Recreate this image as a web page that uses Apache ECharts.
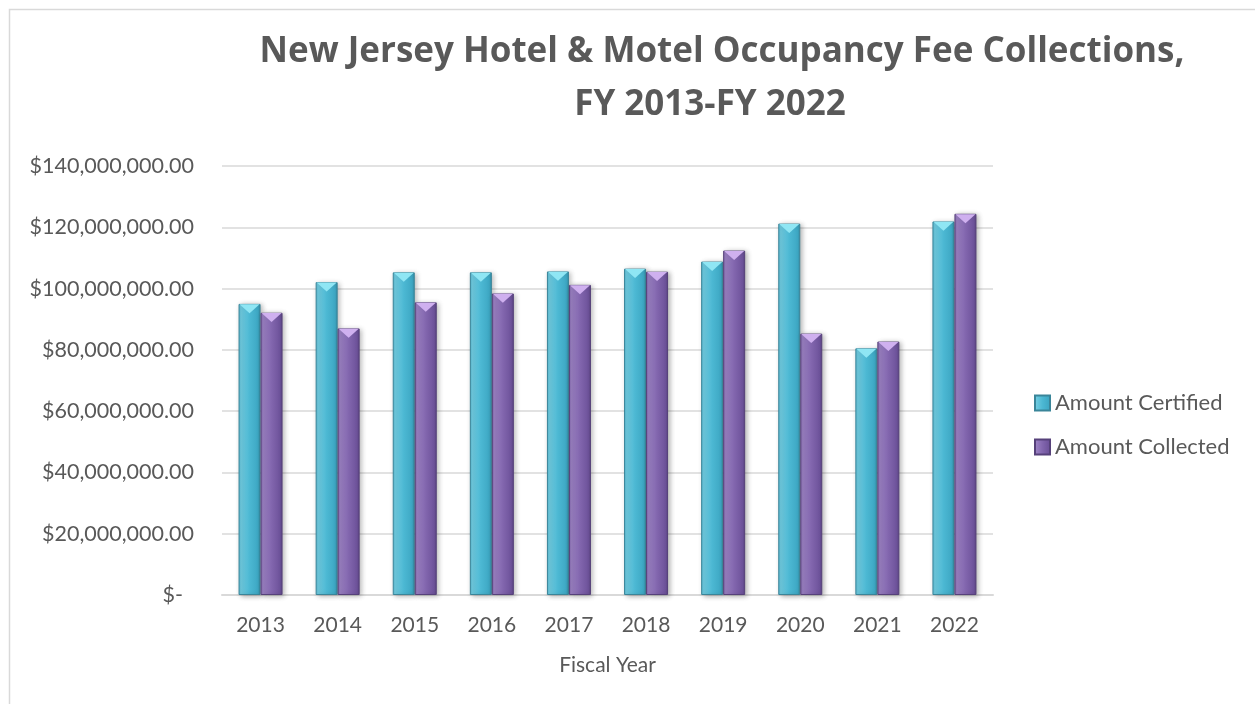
<!DOCTYPE html>
<html>
<head>
<meta charset="utf-8">
<script src="https://cdn.jsdelivr.net/npm/echarts@6/dist/echarts.min.js"></script>
<style>
html,body{margin:0;padding:0;background:#fff;}
#chart{width:1255px;height:704px;}
</style>
</head>
<body>
<div id="chart"></div>
<script>
const titleLine1 = 'New Jersey Hotel & Motel Occupancy Fee Collections,';
const titleLine2 = 'FY 2013-FY 2022';
const years = ['2013','2014','2015','2016','2017','2018','2019','2020','2021','2022'];
const seriesNames = ['Amount Certified', 'Amount Collected'];
const amountCertified = [95000000, 102100000, 105300000, 105300000, 105600000, 106500000, 108800000, 121200000, 80500000, 121900000];
const amountCollected = [92100000, 87000000, 95500000, 98400000, 101200000, 105500000, 112400000, 85300000, 82700000, 124400000];
const yTicks = {min: 0, max: 140000000, interval: 20000000};
const xAxisName = 'Fiscal Year';

const FONT = 'Lato';
const TFONT = '"Open Sans"';
const GRAY = '#595959';

function money(v) {
  if (v === 0) return '$-  ';
  return '$' + v.toLocaleString('en-US', {minimumFractionDigits: 2, maximumFractionDigits: 2});
}

function grad(stops) {
  return new echarts.graphic.LinearGradient(0, 0, 1, 0, stops.map((c) => ({offset: c[0], color: c[1]})));
}
const cyanFill = grad([[0,'#58bad3'],[0.12,'#6fcbe0'],[0.5,'#4cb8d3'],[0.88,'#3ea8c4'],[1,'#3590aa']]);
const purpleFill = grad([[0,'#8468ad'],[0.12,'#9a80c2'],[0.5,'#8266ae'],[0.88,'#6e539b'],[1,'#5d4585']]);

const chart = echarts.init(document.getElementById('chart'), null, {renderer: 'canvas'});
const BW = 22;
chart.setOption({
  animation: false,
  backgroundColor: '#ffffff',
  textStyle: {fontFamily: FONT},
  graphic: [
    {type: 'rect', shape: {x: 9.5, y: 9.5, width: 1400, height: 900}, style: {fill: 'none', stroke: '#d9d9d9', lineWidth: 1.5}, silent: true, z: -1},
    {type: 'text', x: 722, y: 52, style: {text: titleLine1, font: 'bold 35px ' + TFONT, fill: GRAY, align: 'center', verticalAlign: 'middle'}},
    {type: 'text', x: 710, y: 105, style: {text: titleLine2, font: 'bold 35px ' + TFONT, fill: GRAY, align: 'center', verticalAlign: 'middle'}}
  ],
  grid: {left: 222, right: 262, top: 166, bottom: 109, containLabel: false},
  legend: {
    data: seriesNames,
    orient: 'vertical',
    left: 1029,
    top: 386,
    itemWidth: 15,
    itemHeight: 15,
    itemGap: 20,
    icon: 'rect',
    textStyle: {fontFamily: FONT, fontSize: 22, color: GRAY, lineHeight: 24}
  },
  xAxis: {
    type: 'category',
    data: years,
    name: xAxisName,
    nameLocation: 'middle',
    nameGap: 60,
    nameTextStyle: {fontFamily: FONT, fontSize: 21, color: GRAY},
    axisLine: {lineStyle: {color: '#d9d9d9', width: 2}},
    axisTick: {show: false},
    axisLabel: {fontFamily: FONT, fontSize: 21, color: GRAY, margin: 20}
  },
  yAxis: {
    type: 'value',
    min: yTicks.min,
    max: yTicks.max,
    interval: yTicks.interval,
    axisLine: {show: false},
    axisTick: {show: false},
    splitLine: {lineStyle: {color: '#d9d9d9', width: 1.5}},
    axisLabel: {fontFamily: FONT, fontSize: 21.5, color: GRAY, margin: 28, formatter: money}
  },
  series: [
    {
      name: seriesNames[0], type: 'bar', data: amountCertified, barWidth: BW, barGap: '0%',
      itemStyle: {color: cyanFill, borderColor: '#3a8599', borderWidth: 1, shadowBlur: 5, shadowOffsetX: 2, shadowOffsetY: 1, shadowColor: 'rgba(0,0,0,0.3)'}
    },
    {
      name: seriesNames[1], type: 'bar', data: amountCollected, barWidth: BW, barGap: '0%',
      itemStyle: {color: purpleFill, borderColor: '#56417a', borderWidth: 1, shadowBlur: 5, shadowOffsetX: 2, shadowOffsetY: 1, shadowColor: 'rgba(0,0,0,0.3)'}
    },
    {
      name: 'capCertified', type: 'pictorialBar', data: amountCertified, symbol: 'path://M0,0 L20,0 L10,9 Z',
      symbolSize: [BW - 2, 9], symbolPosition: 'end', symbolOffset: [-BW / 2, 0], symbolClip: false, z: 5, silent: true,
      itemStyle: {color: '#8fe6f4', borderColor: '#d8f8fc', borderWidth: 1}
    },
    {
      name: 'capCollected', type: 'pictorialBar', data: amountCollected, symbol: 'path://M0,0 L20,0 L10,9 Z',
      symbolSize: [BW - 2, 9], symbolPosition: 'end', symbolOffset: [BW / 2, 0], symbolClip: false, z: 5, silent: true,
      itemStyle: {color: '#cfb0ef', borderColor: '#eadcf8', borderWidth: 1}
    }
  ]
});
</script>
</body>
</html>
